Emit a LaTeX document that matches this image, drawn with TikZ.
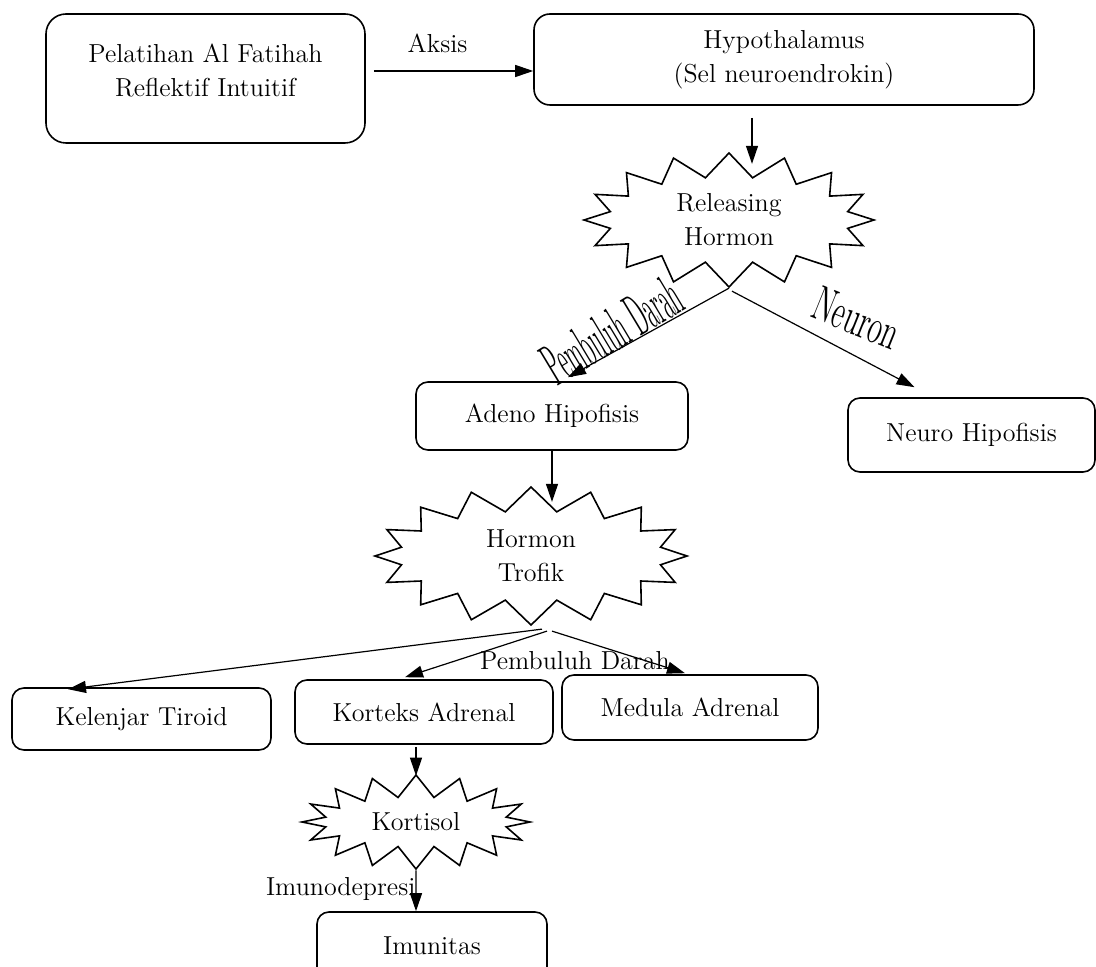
\documentclass[tikz,border=0pt]{standalone}
\usepackage{tikz}
\usetikzlibrary{shapes.symbols, arrows.meta, positioning}

\begin{document}
\begin{tikzpicture}[x=0.5pt, y=-0.5pt,
        box/.style = {
            rectangle,
            draw,
            thick,
            rounded corners=6pt,
            align = center,
            font = \fontsize{13}{17}\selectfont,
            inner sep=2pt
        },
        burst/.style = {
            starburst,
            draw,
            thick,
            starburst points=16,
            random starburst=0,
            starburst point height=12pt,
            align = center,
            font = \fontsize{13}{17}\selectfont,
            inner sep=0pt
        },
        link/.style = {-{Triangle[length=9pt, width=6pt]}, semithick},
        wordart/.style = {font=\fontsize{13}{17}\selectfont, inner sep=0pt}
        ]
        \useasboundingbox (0,0) rectangle (1096,967);

        \node (pelatihan) [box, rounded corners=10pt, text depth=8pt, minimum width=159.5pt, minimum height=64.5pt] at (205.5,78.5) {Pelatihan Al Fatihah\\Reflektif Intuitif};
        \node (hypothalamus) [box, rounded corners=8pt, minimum width=250pt, minimum height=45.5pt] at (784,59.5) {Hypothalamus\\(Sel neuroendrokin)};

        \node (releasing) [burst, minimum width=145pt, minimum height=67pt] at (729,220) {Releasing\\Hormon};

        \node (adeno) [box, minimum width=136pt, minimum height=34pt] at (552,416) {Adeno Hipofisis};
        \node (neuro) [box, minimum width=123.5pt, minimum height=37pt] at (971.5,435) {Neuro Hipofisis};

        \node (trofik) [burst, minimum width=156pt, minimum height=69pt] at (531,556) {Hormon\\Trofik};

        \node (tiroid) [box, minimum width=129.5pt, minimum height=31pt] at (141.5,719) {Kelenjar Tiroid};
        \node (korteks) [box, minimum width=129pt, minimum height=32pt] at (424,712) {Korteks Adrenal};
        \node (medula) [box, minimum width=128pt, minimum height=32.5pt] at (690,707.5) {Medula Adrenal};

        \node (kortisol) [burst, starburst point height=11pt, minimum width=114pt, minimum height=47pt] at (416,822) {Kortisol};

        \node (imunitas) [box, minimum width=115pt, minimum height=34pt] at (432,946) {Imunitas};

        % arrows
        \draw[link] ([shift={(8,-7.5)}]pelatihan.east) -- node[above=9pt, pos=0.4, wordart] (aksis) {Aksis} ([shift={(0,11.5)}]hypothalamus.west);
        \draw[link] ([shift={(-32,12)}]hypothalamus.south) -- ([shift={(-32,12)}]hypothalamus.south |- releasing.north);
        \draw[link] (releasing.south) -- ([shift={(16,-4)}]adeno.north);
        \draw[link] ([shift={(3,3)}]releasing.south) -- ([shift={(-57,-10)}]neuro.north);
        \node (darah_1) [wordart, rotate=31, xscale=0.8, yscale=2.3] at (612,330) {Pembuluh Darah};
        \node (neuron) [wordart, rotate=-22, xscale=1.1, yscale=1.9] at (857,318) {Neuron};

        \draw[link] (adeno.south) -- ([yshift=-8pt]adeno.south |- trofik.north);
        \draw[link] ([shift={(11,3)}]trofik.south) -- ([shift={(-73.5,2)}]tiroid.north);
        \draw[link] ([shift={(16,5)}]trofik.south) -- ([shift={(-19,-2)}]korteks.north);
        \draw[link] ([shift={(21,5)}]trofik.south) -- ([shift={(-5,-1)}]medula.north);
        \node (darah_2) [wordart] at (575,661) {Pembuluh Darah};

        \draw[link] ([shift={(-8,2)}]korteks.south) -- ([shift={(-8,2)}]korteks.south |- kortisol.north);
        \draw[link] (kortisol.south) -- node[left=0pt, pos=0.45, wordart] (imunodepresi) {Imunodepresi} ([xshift=-8pt]imunitas.north);

    \end{tikzpicture}
\end{document}
